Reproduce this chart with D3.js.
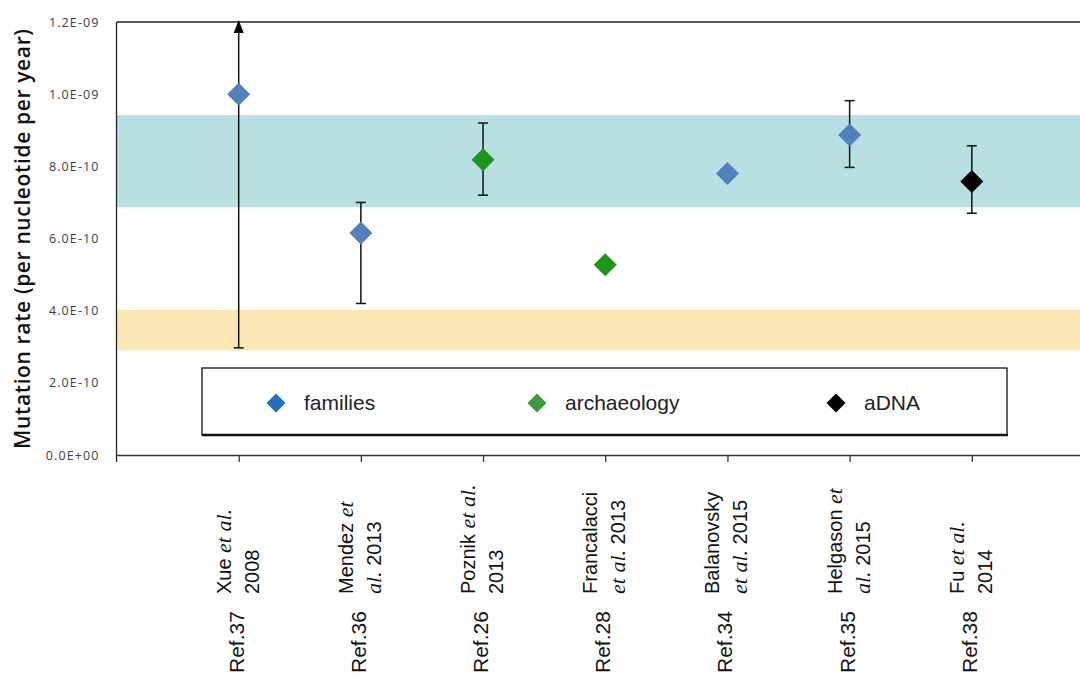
<!DOCTYPE html>
<html>
<head>
<meta charset="utf-8">
<script src="https://cdn.jsdelivr.net/npm/d3@7"></script>
<style>
  html, body { margin: 0; padding: 0; background: #fff; }
  svg { display: block; }
</style>
</head>
<body>
<div id="chart"></div>
<script>
// mutation rate estimates, one entry per study
const refs = ["Ref.37", "Ref.36", "Ref.26", "Ref.28", "Ref.34", "Ref.35", "Ref.38"];
const studyLine1 = ["Xue et al.", "Mendez et", "Poznik et al.", "Francalacci", "Balanovsky", "Helgason et", "Fu et al."];
const studyLine2 = ["2008", "al. 2013", "2013", "et al. 2013", "et al. 2015", "al. 2015", "2014"];
const method = ["families", "families", "archaeology", "archaeology", "families", "families", "aDNA"];
const rate = [1.0e-9, 6.15e-10, 8.18e-10, 5.27e-10, 7.8e-10, 8.87e-10, 7.58e-10];
const errLow = [2.97e-10, 4.2e-10, 7.2e-10, null, null, 7.97e-10, 6.7e-10];
const errHigh = [1.2e-9, 7.0e-10, 9.2e-10, null, null, 9.82e-10, 8.57e-10];
const openEnded = [true, false, false, false, false, false, false];

// shaded ranges
const tealBand = [6.87e-10, 9.42e-10];
const orangeBand = [2.9e-10, 4.02e-10];

const yTicks = [0, 2e-10, 4e-10, 6e-10, 8e-10, 1.0e-9, 1.2e-9];
const legendNames = ["families", "archaeology", "aDNA"];

const width = 1080, height = 677;
const plotLeft = 116.5, plotTop = 22, plotBottom = 455, plotRight = 1094;

const colors = { families: "#4f81bd", archaeology: "#1b961b", aDNA: "#000000" };
const legendColors = { families: "#1f6fc2", archaeology: "#3a9c3a", aDNA: "#000000" };

const svg = d3.select("#chart").append("svg")
    .attr("width", width)
    .attr("height", height);

const x = d3.scalePoint()
    .domain(refs)
    .range([plotLeft, plotRight])
    .padding(1);

const y = d3.scaleLinear()
    .domain([0, 1.2e-9])
    .range([plotBottom, plotTop]);

function sci(v) {
  if (v === 0) return "0.0E+00";
  const e = Math.floor(Math.log10(v) + 1e-9);
  const m = v / Math.pow(10, e);
  return m.toFixed(1) + "E" + (e < 0 ? "-" : "+") + String(Math.abs(e)).padStart(2, "0");
}

// bands
svg.append("rect")
    .attr("x", plotLeft).attr("width", plotRight - plotLeft)
    .attr("y", y(tealBand[1])).attr("height", y(tealBand[0]) - y(tealBand[1]))
    .attr("fill", "#b8dfe2");
svg.append("rect")
    .attr("x", plotLeft).attr("width", plotRight - plotLeft)
    .attr("y", y(orangeBand[1])).attr("height", y(orangeBand[0]) - y(orangeBand[1]))
    .attr("fill", "#fce8b4");

// plot frame (top and left)
svg.append("line")
    .attr("x1", plotLeft).attr("x2", plotRight)
    .attr("y1", plotTop).attr("y2", plotTop)
    .attr("stroke", "#222").attr("stroke-width", 1.3);
svg.append("line")
    .attr("x1", plotLeft).attr("x2", plotLeft)
    .attr("y1", plotTop).attr("y2", plotBottom + 7)
    .attr("stroke", "#222").attr("stroke-width", 1.3);

// y axis labels
const yAxis = d3.axisLeft(y).tickValues(yTicks).tickFormat(sci).tickSize(0).tickPadding(17);
const yg = svg.append("g").attr("transform", `translate(${plotLeft},0)`).call(yAxis);
yg.select(".domain").remove();
yg.selectAll("text")
    .attr("fill", "#404040")
    .style("font-family", "'Open Sans', sans-serif")
    .style("font-size", "12.5px")
    .style("letter-spacing", "1.1px");

svg.append("text")
    .attr("transform", `translate(30,239) rotate(-90)`)
    .attr("text-anchor", "middle")
    .attr("textLength", 420)
    .attr("lengthAdjust", "spacing")
    .style("font-family", "'Open Sans', sans-serif")
    .style("font-size", "21px")
    .style("font-weight", 600)
    .attr("fill", "#111")
    .text("Mutation rate (per nucleotide per year)");

// x axis
const xAxis = d3.axisBottom(x).tickSize(7).tickFormat("");
const xg = svg.append("g").attr("transform", `translate(0,${plotBottom})`).call(xAxis);
xg.select(".domain").attr("d", `M${plotLeft},0.5H${plotRight}`).attr("stroke", "#333").attr("stroke-width", 1.5);
xg.selectAll(".tick line").attr("stroke", "#333").attr("stroke-width", 1.3);

// rotated category labels, "et al." in italics
function addWords(textSel, str) {
  str.split(" ").forEach((w, i) => {
    const italic = (w === "et" || w === "al.");
    textSel.append("tspan")
        .style("font-family", italic ? "'Liberation Serif', serif" : "'Liberation Sans', Arial, sans-serif")
        .style("font-style", italic ? "italic" : "normal")
        .style("font-size", italic ? "22px" : "20px")
        .text((i > 0 ? " " : "") + w);
  });
}

const labels = svg.append("g").attr("fill", "#111");
refs.forEach((r, i) => {
  const cx = x(r);
  labels.append("text")
      .attr("transform", `translate(${cx + 5},673) rotate(-90)`)
      .style("font-family", "'Liberation Sans', Arial, sans-serif")
      .style("font-size", "21px")
      .text(r);
  addWords(labels.append("text")
      .attr("transform", `translate(${cx - 8},594) rotate(-90)`), studyLine1[i]);
  addWords(labels.append("text")
      .attr("transform", `translate(${cx + 20},594) rotate(-90)`), studyLine2[i]);
});

// legend
const lg = svg.append("g");
lg.append("rect")
    .attr("x", 202).attr("y", 368).attr("width", 805).attr("height", 67)
    .attr("fill", "#fff").attr("stroke", "#111").attr("stroke-width", 1.3);
lg.append("line").attr("x1", 202).attr("x2", 1008).attr("y1", 435).attr("y2", 435)
    .attr("stroke", "#111").attr("stroke-width", 2.6);
const legendX = [276, 537, 836];

function diamond(r) {
  return `M0,${-r}L${r},0L0,${r}L${-r},0Z`;
}

legendNames.forEach((n, i) => {
  lg.append("path")
      .attr("d", diamond(9.5))
      .attr("transform", `translate(${legendX[i]},403)`)
      .attr("fill", legendColors[n]);
  lg.append("text")
      .attr("x", legendX[i] + 28).attr("y", 410)
      .style("font-family", "'Liberation Sans', Arial, sans-serif")
      .style("font-size", "21px")
      .attr("fill", "#222")
      .text(n);
});

// error bars
const bars = svg.append("g").attr("stroke", "#111").attr("stroke-width", 1.5);
refs.forEach((r, i) => {
  if (errLow[i] == null) return;
  const cx = x(r);
  const yTop = openEnded[i] ? y(errHigh[i]) + 10 : y(errHigh[i]);
  bars.append("line").attr("x1", cx).attr("x2", cx).attr("y1", yTop).attr("y2", y(errLow[i]));
  bars.append("line").attr("x1", cx - 5).attr("x2", cx + 5).attr("y1", y(errLow[i])).attr("y2", y(errLow[i]));
  if (openEnded[i]) {
    svg.append("path")
        .attr("d", `M${cx},${y(errHigh[i]) - 2}L${cx + 5},${y(errHigh[i]) + 11}L${cx - 5},${y(errHigh[i]) + 11}Z`)
        .attr("fill", "#000");
  } else {
    bars.append("line").attr("x1", cx - 5).attr("x2", cx + 5).attr("y1", y(errHigh[i])).attr("y2", y(errHigh[i]));
  }
});

// points
svg.append("g").selectAll("path")
  .data(refs)
  .join("path")
    .attr("d", diamond(11.5))
    .attr("transform", (r, i) => `translate(${x(r)},${y(rate[i])})`)
    .attr("fill", (r, i) => colors[method[i]]);
</script>
</body>
</html>
